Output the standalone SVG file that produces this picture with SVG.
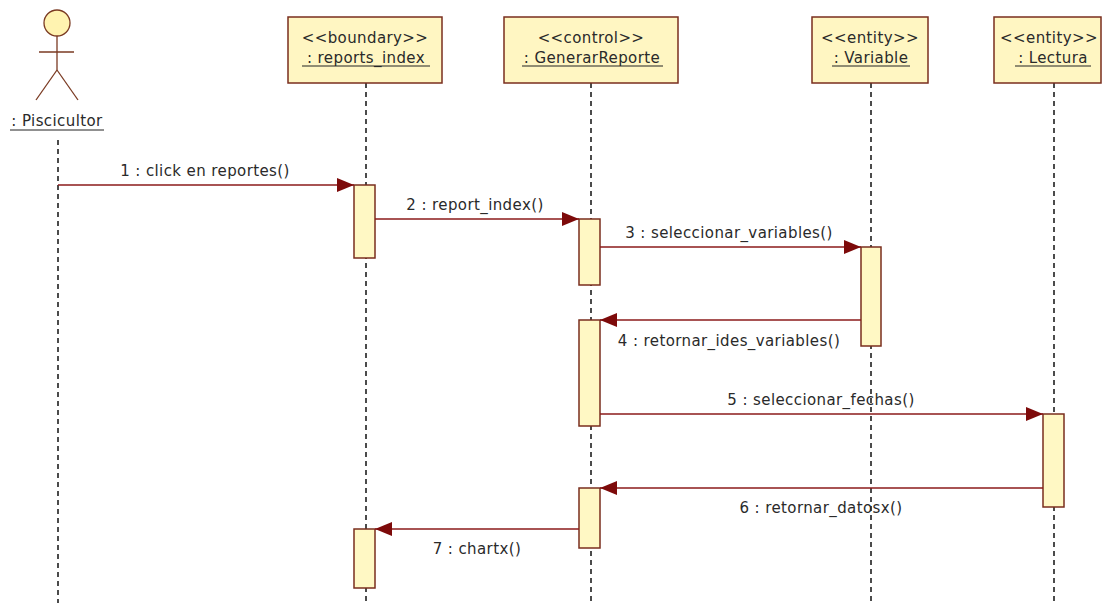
<svg xmlns="http://www.w3.org/2000/svg" width="1104" height="603" viewBox="0 0 1104 603">
<style>
  .bg{fill:#ffffff}
  .node{fill:#fff6c2;stroke:#7a2e1e;stroke-width:1.5}
  .act{fill:#fff8c4;stroke:#7a2e1e;stroke-width:1.5}
  .life{stroke:#111;stroke-width:1.5;stroke-dasharray:5,4;fill:none}
  .msg{stroke:#8b1a1a;stroke-width:1.3;fill:none}
  .t{font-family:"DejaVu Sans","Liberation Sans",sans-serif;font-size:15px;fill:#2a2a2a;letter-spacing:0.4px}
  .ul{stroke:#222;stroke-width:1}
  .actor{stroke:#7a3a22;stroke-width:1.3;fill:none}
</style>
<defs>
  <marker id="arr" markerUnits="userSpaceOnUse" markerWidth="17" markerHeight="14" refX="17" refY="7" orient="auto">
    <path d="M0,0 L17,7 L0,14 z" fill="#7d0a0a"/>
  </marker>
</defs>
<rect class="bg" x="0" y="0" width="1104" height="603"/>

<g id="lifelines">
  <line class="life" x1="58" y1="140" x2="58" y2="603"/>
  <line class="life" x1="366" y1="83" x2="366" y2="603"/>
  <line class="life" x1="591" y1="83" x2="591" y2="603"/>
  <line class="life" x1="871" y1="83" x2="871" y2="603"/>
  <line class="life" x1="1054" y1="83" x2="1054" y2="603"/>
</g>

<g id="actor-piscicultor">
  <circle cx="57" cy="23" r="13" fill="#fff3b0" stroke="#7a3a22" stroke-width="1.3"/>
  <line class="actor" x1="57" y1="36" x2="57" y2="70"/>
  <line class="actor" x1="39" y1="52" x2="74" y2="52"/>
  <line class="actor" x1="57" y1="70" x2="36" y2="100"/>
  <line class="actor" x1="57" y1="70" x2="78" y2="100"/>
  <text class="t" x="57" y="126" text-anchor="middle">: Piscicultor</text>
  <line class="ul" x1="10" y1="130" x2="104" y2="130"/>
</g>

<g id="node-reports-index">
  <rect class="node" x="288" y="17" width="154" height="66"/>
  <text class="t" x="365" y="43" text-anchor="middle">&lt;&lt;boundary&gt;&gt;</text>
  <text class="t" x="366" y="63" text-anchor="middle">: reports_index</text>
  <line class="ul" x1="302" y1="66" x2="430" y2="66"/>
</g>

<g id="node-generar-reporte">
  <rect class="node" x="504" y="17" width="174" height="66"/>
  <text class="t" x="591" y="43" text-anchor="middle">&lt;&lt;control&gt;&gt;</text>
  <text class="t" x="592" y="63" text-anchor="middle">: GenerarReporte</text>
  <line class="ul" x1="522" y1="66" x2="663" y2="66"/>
</g>

<g id="node-variable">
  <rect class="node" x="812" y="17" width="116" height="66"/>
  <text class="t" x="870" y="43" text-anchor="middle">&lt;&lt;entity&gt;&gt;</text>
  <text class="t" x="871" y="63" text-anchor="middle">: Variable</text>
  <line class="ul" x1="832" y1="66" x2="910" y2="66"/>
</g>

<g id="node-lectura">
  <rect class="node" x="994" y="17" width="107" height="66"/>
  <text class="t" x="1049" y="43" text-anchor="middle">&lt;&lt;entity&gt;&gt;</text>
  <text class="t" x="1053" y="63" text-anchor="middle">: Lectura</text>
  <line class="ul" x1="1015" y1="66" x2="1091" y2="66"/>
</g>

<g id="activations">
  <rect class="act" x="354" y="185" width="21" height="73"/>
  <rect class="act" x="579" y="219" width="21" height="66"/>
  <rect class="act" x="861" y="247" width="20" height="99"/>
  <rect class="act" x="579" y="320" width="21" height="106"/>
  <rect class="act" x="1043" y="414" width="21" height="93"/>
  <rect class="act" x="579" y="488" width="21" height="60"/>
  <rect class="act" x="354" y="529" width="21" height="59"/>
</g>

<g id="connectors">
  <line class="msg" x1="58" y1="185" x2="354" y2="185" marker-end="url(#arr)"/>
  <line class="msg" x1="375" y1="219" x2="579" y2="219" marker-end="url(#arr)"/>
  <line class="msg" x1="600" y1="247" x2="861" y2="247" marker-end="url(#arr)"/>
  <line class="msg" x1="861" y1="320" x2="600" y2="320" marker-end="url(#arr)"/>
  <line class="msg" x1="600" y1="414" x2="1043" y2="414" marker-end="url(#arr)"/>
  <line class="msg" x1="1043" y1="488" x2="600" y2="488" marker-end="url(#arr)"/>
  <line class="msg" x1="579" y1="529" x2="375" y2="529" marker-end="url(#arr)"/>
</g>

<g id="message-labels">
  <text class="t" x="205" y="176" text-anchor="middle">1 : click en reportes()</text>
  <text class="t" x="475" y="210" text-anchor="middle">2 : report_index()</text>
  <text class="t" x="729" y="238" text-anchor="middle">3 : seleccionar_variables()</text>
  <text class="t" x="729" y="346" text-anchor="middle">4 : retornar_ides_variables()</text>
  <text class="t" x="821" y="405" text-anchor="middle">5 : seleccionar_fechas()</text>
  <text class="t" x="821" y="513" text-anchor="middle">6 : retornar_datosx()</text>
  <text class="t" x="477" y="554" text-anchor="middle">7 : chartx()</text>
</g>
</svg>
